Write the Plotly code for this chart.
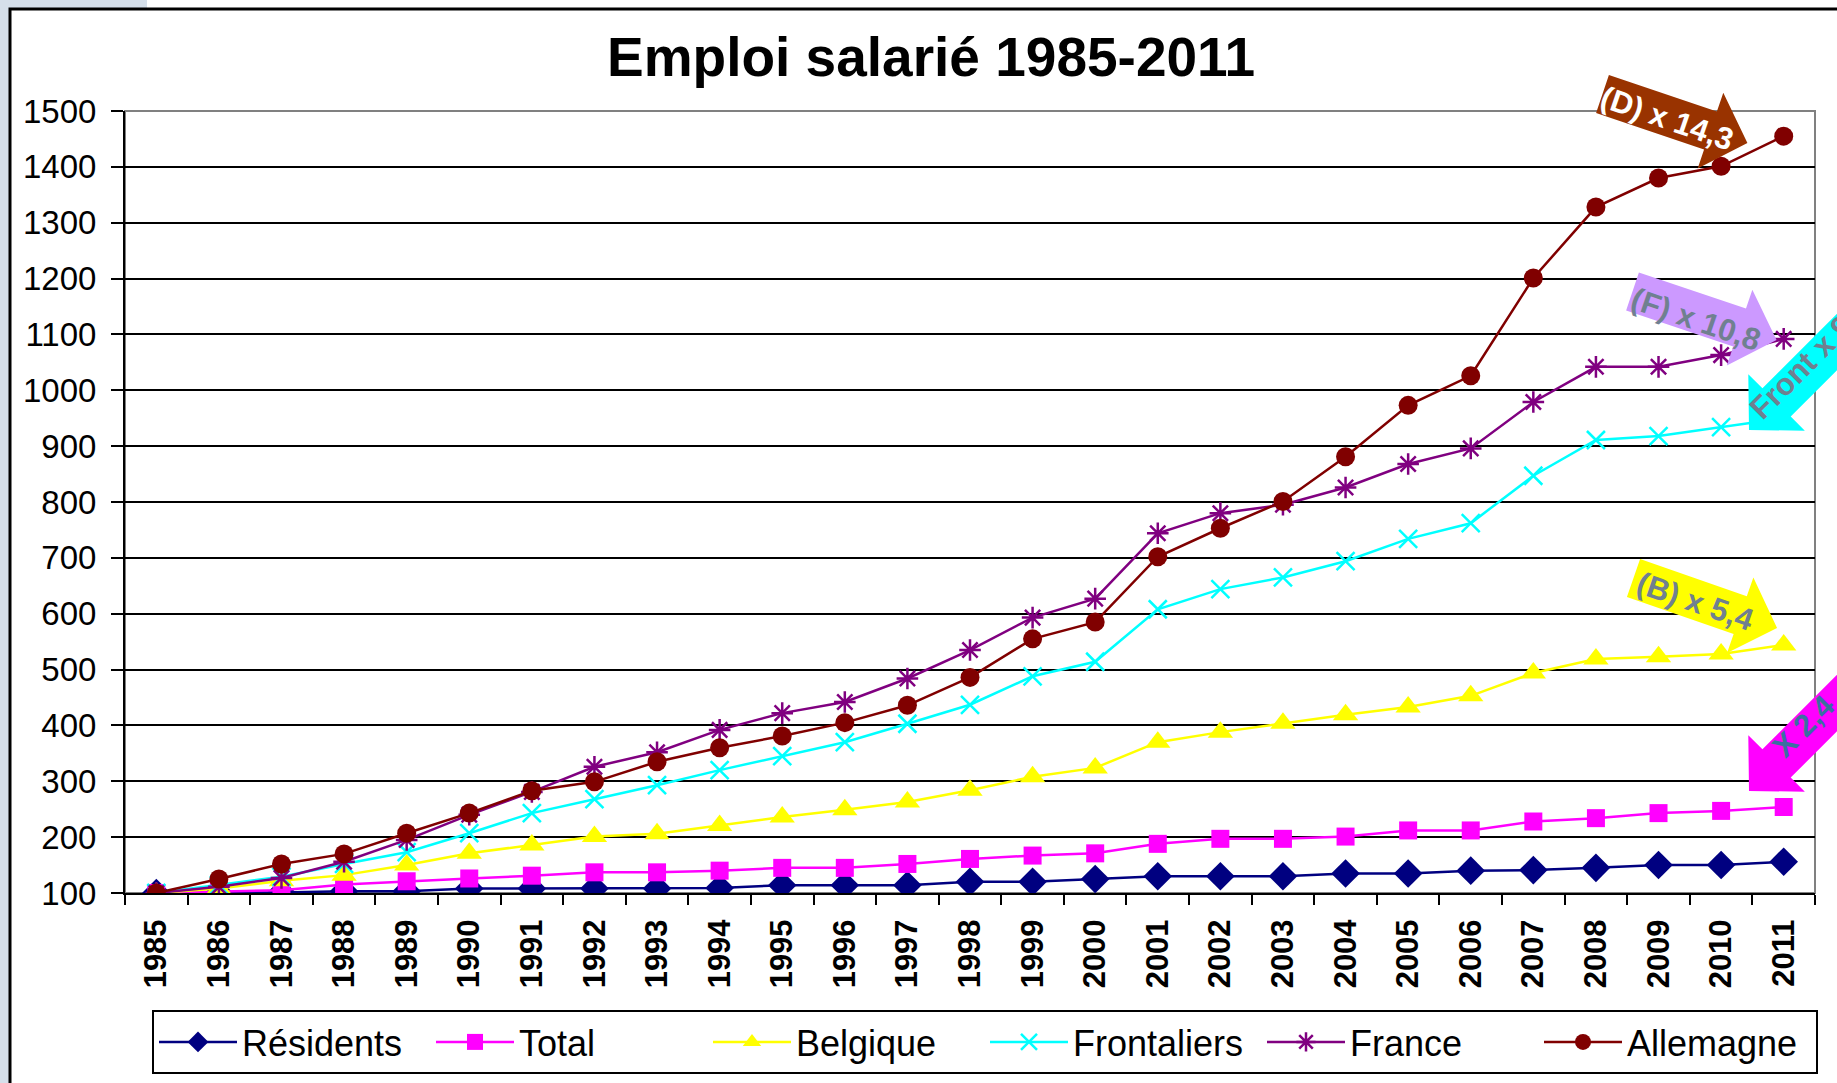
import math
import plotly.graph_objects as go

# ---------------- data ----------------
years = list(range(1985, 2012))
residents = [100, 100, 101, 103, 103, 108, 108, 108, 108, 109, 114, 114, 114, 120, 120, 125,
             130, 130, 130, 135, 135, 140, 141, 145, 150, 150, 156]
total = [100, 103, 105, 115, 121, 126, 131, 137, 137, 140, 145, 145, 152, 161, 167, 171,
         188, 197, 197, 201, 212, 212, 228, 234, 243, 247, 254]
belgique = [100, 108, 122, 132, 150, 171, 186, 201, 206, 221, 236, 249, 263, 284, 308, 324,
            370, 388, 404, 419, 433, 453, 494, 519, 523, 528, 544]
frontaliers = [100, 114, 129, 152, 173, 207, 243, 268, 293, 320, 345, 370, 403, 437, 488, 514,
               608, 644, 665, 694, 734, 762, 847, 911, 918, 934, 950]
france = [100, 111, 127, 156, 195, 240, 281, 326, 352, 392, 422, 442, 484, 535, 593, 627,
          744, 780, 795, 826, 868, 896, 979, 1042, 1042, 1063, 1092]
allemagne = [100, 125, 152, 170, 207, 243, 283, 299, 335, 360, 381, 405, 436, 486, 555, 585,
             702, 753, 801, 881, 973, 1026, 1201, 1328, 1380, 1401, 1455]

series_names = ["Résidents", "Total", "Belgique", "Frontaliers", "France", "Allemagne"]
series_values = [residents, total, belgique, frontaliers, france, allemagne]
series_colors = ["#000080", "#FF00FF", "#FFFF00", "#00FFFF", "#800080", "#800000"]
series_symbols = ["diamond", "square", "triangle-up", "x-thin", "asterisk", "circle"]
series_sizes = [22, 18, 22, 18, 18, 19]

title_text = "Emploi salarié 1985-2011"
arrow_labels = ["(D) x 14,3", "(F) x 10,8", "(B) x 5,4", "Front x 9,5", "X 2,4"]

# ---------------- layout geometry ----------------
W, H = 1837, 1083
ML, MR, MT, MB = 125, 22, 111, 190
PW = W - ML - MR
PH = H - MT - MB


def P(px, py):
    return (px - ML) / PW, (H - MB - py) / PH


def arrow_path(tx, ty, ang, L, w=40, hl=39, hw=80):
    a = math.radians(ang)
    d = (math.cos(a), math.sin(a))
    n = (-math.sin(a), math.cos(a))
    local = [(0, -w / 2), (L - hl, -w / 2), (L - hl, -hw / 2), (L, 0),
             (L - hl, hw / 2), (L - hl, w / 2), (0, w / 2)]
    pts = []
    for u, v in local:
        px = tx + u * d[0] + v * n[0]
        py = ty + u * d[1] + v * n[1]
        pts.append(P(px, py))
    return "M " + " L ".join(f"{x:.5f},{y:.5f}" for x, y in pts) + " Z"


fig = go.Figure()
for name, vals, col, sym, sz in zip(series_names, series_values, series_colors,
                                    series_symbols, series_sizes):
    open_sym = sym in ("x-thin", "asterisk")
    fig.add_trace(go.Scatter(
        x=years, y=vals, name=name, mode="lines+markers",
        line=dict(color=col, width=2.5),
        marker=dict(symbol=sym, size=sz, color=col,
                    line=dict(color=col, width=2.5 if open_sym else 0)),
    ))

shapes = []
# slide background bits
x0, y0 = P(0, 0); x1, y1 = P(10, H)
shapes.append(dict(type="rect", xref="paper", yref="paper", x0=x0, y0=y0, x1=x1, y1=y1,
                   fillcolor="#D5DFEA", line=dict(width=0), layer="below"))
x0, y0 = P(0, 0); x1, y1 = P(147, 9)
shapes.append(dict(type="rect", xref="paper", yref="paper", x0=x0, y0=y0, x1=x1, y1=y1,
                   fillcolor="#D5DFEA", line=dict(width=0), layer="below"))
# outer frame
x0, y0 = P(10, 9); x1, y1 = P(1900, 1150)
shapes.append(dict(type="rect", xref="paper", yref="paper", x0=x0, y0=y1, x1=x1, y1=y0,
                   line=dict(color="black", width=3), fillcolor="rgba(0,0,0,0)", layer="above"))
# plot area gray border (top/right)
shapes.append(dict(type="rect", xref="paper", yref="paper", x0=0, y0=0, x1=1, y1=1,
                   line=dict(color="#808080", width=2), fillcolor="rgba(0,0,0,0)",
                   layer="between"))

# arrows
arrow_specs = [
    # tail x, tail y, angle, length, fill
    (1602.5, 94, 18.7, 153, "#993300"),
    (1632.5, 291.5, 18.6, 152, "#CC99FF"),
    (1633.5, 578, 19.2, 152, "#FFFF00"),
    (1749 + 250 * 0.7071, 430 - 250 * 0.7071, 135, 250, "#00FFFF"),
    (1749 + 250 * 0.7071, 791 - 250 * 0.7071, 135, 250, "#FF00FF"),
]
for tx, ty, ang, L, col in arrow_specs:
    shapes.append(dict(type="path", xref="paper", yref="paper",
                       path=arrow_path(tx, ty, ang, L), fillcolor=col,
                       line=dict(width=0), layer="above"))

annotations = []
tx, ty = P(931, 57)
annotations.append(dict(x=tx, y=ty, xref="paper", yref="paper", text=f"<b>{title_text}</b>",
                        showarrow=False, xanchor="center", yanchor="middle",
                        font=dict(family="Liberation Sans, Arial", size=55, color="black")))

label_specs = [
    (1667, 119, 19, "white"),
    (1696, 319, 19, "#708090"),
    (1695, 601, 19, "#708090"),
    (1810, 358, -45, "#708090"),
    (1803, 726, -45, "#3B6FA0"),
]
for (cx, cy, ang, col), txt in zip(label_specs, arrow_labels):
    ax_, ay_ = P(cx, cy)
    annotations.append(dict(x=ax_, y=ay_, xref="paper", yref="paper", text=f"<b>{txt}</b>",
                            showarrow=False, xanchor="center", yanchor="middle",
                            textangle=ang,
                            font=dict(family="Liberation Sans, Arial", size=31, color=col)))

lx, ly = P(152, 1010)
fig.update_layout(
    width=W, height=H,
    margin=dict(l=ML, r=MR, t=MT, b=MB, pad=0, autoexpand=False),
    paper_bgcolor="white", plot_bgcolor="white",
    font=dict(family="Liberation Sans, Arial", color="black"),
    showlegend=True,
    legend=dict(orientation="h", x=lx, y=ly, xanchor="left", yanchor="top",
                bordercolor="black", borderwidth=2, bgcolor="white",
                font=dict(family="Liberation Sans, Arial", size=36, color="black"),
                entrywidth=184, itemwidth=78),
    xaxis=dict(range=[1984.5, 2011.5], tickmode="array", tickvals=years,
               ticktext=[str(y) for y in years], tickangle=-90,
               tickfont=dict(family="Liberation Sans, Arial", size=31, color="black",
                             weight="bold"),
               ticks="", showgrid=False, zeroline=False,
               showline=True, linecolor="black", linewidth=2,
               ticklabelstandoff=12,
               minor=dict(ticks="outside", ticklen=10, tickwidth=2, tickcolor="black",
                          tick0=1984.5, dtick=1, showgrid=False)),
    yaxis=dict(range=[100, 1500], tick0=100, dtick=100,
               tickfont=dict(family="Liberation Sans, Arial", size=33, color="black"),
               ticks="outside", ticklen=12, tickwidth=2, tickcolor="black",
               showgrid=True, gridcolor="black", gridwidth=2, zeroline=False,
               showline=True, linecolor="black", linewidth=2,
               ticklabelstandoff=8),
    shapes=shapes,
    annotations=annotations,
)

fig.write_html("out.html", include_plotlyjs=True, config={"displayModeBar": False},
               post_script="document.body.style.margin='0';document.body.style.overflow='hidden';")
